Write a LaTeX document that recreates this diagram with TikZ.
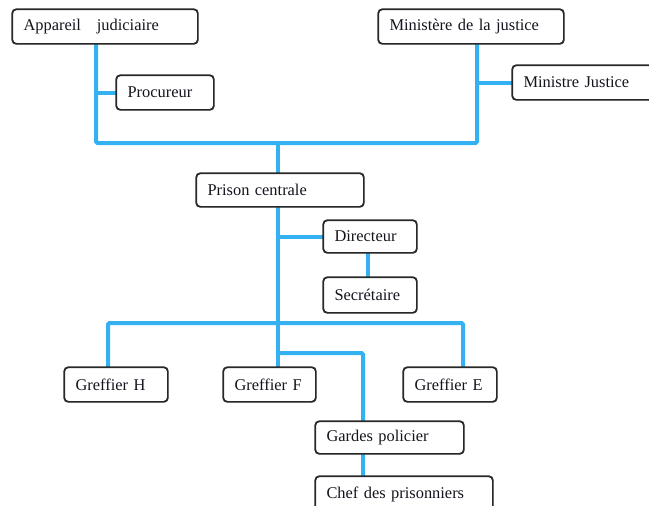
\documentclass[tikz,border=0pt]{standalone}
\usepackage{fontspec}
\setmainfont{Liberation Serif}
\definecolor{linkblue}{RGB}{52,177,240}
\definecolor{boxline}{RGB}{40,40,40}
\definecolor{txt}{RGB}{20,20,30}
\begin{document}
\begin{tikzpicture}[x=1pt,y=-1pt,
  box/.style={draw=boxline, line width=1.1pt, rounded corners=4pt, fill=white,
    anchor=north west, inner xsep=11pt, inner ysep=0pt, align=left,
    text=txt, font=\fontsize{16.4}{18}\selectfont},
  link/.style={draw=linkblue, line width=4pt, rounded corners=1.5pt}]
\useasboundingbox (0,0) rectangle (649,506);
\clip (0,0) rectangle (649,506);
\fill[white] (0,0) rectangle (649,506);
% junction coordinates
\coordinate (jL) at (96,143);
\coordinate (jR) at (477,143);
\coordinate (jP) at (278,143);
\coordinate (jG) at (278,323);
\coordinate (jH) at (108,323);
\coordinate (jE) at (463,323);
\coordinate (jS) at (278,353);
\coordinate (jT) at (363,353);
\coordinate (jD) at (368,0);
% nodes
\node[box, minimum width=185pt, minimum height=34pt, text width=163pt] (app) at (12,9) {Appareil\hspace{16pt}judiciaire};
\node[box, minimum width=97pt, minimum height=34pt, text width=75pt] (proc) at (116,75) {Procureur};
\node[box, minimum width=185pt, minimum height=34pt, text width=163pt] (min) at (378,9) {Ministère de la justice};
\node[box, minimum width=150pt, minimum height=34pt, text width=128pt] (minj) at (512,65) {Ministre Justice};
\node[box, minimum width=167pt, minimum height=33pt, text width=145pt] (pris) at (196,173) {Prison centrale};
\node[box, minimum width=93pt, minimum height=32pt, text width=71pt] (dir) at (323,220) {Directeur};
\node[box, minimum width=93pt, minimum height=35pt, text width=71pt] (sec) at (323,277) {Secrétaire};
\node[box, minimum width=103pt, minimum height=34pt, text width=81pt] (gH) at (64,367) {Greffier H};
\node[box, minimum width=92pt, minimum height=34pt, text width=70pt] (gF) at (223,367) {Greffier F};
\node[box, minimum width=93pt, minimum height=34pt, text width=71pt] (gE) at (403,367) {Greffier E};
\node[box, minimum width=148pt, minimum height=32pt, text width=126pt] (gard) at (315,421) {Gardes policier};
\node[box, minimum width=177pt, minimum height=36pt, text width=155pt] (chef) at (315,476) {Chef des prisonniers};
% connectors
\path[link] (app.south -| jL) -- (jL) -- (jR) -- (min.south -| jR);
\path[link] (jL |- proc.west) -- (proc.west);
\path[link] (jR |- minj.west) -- (minj.west);
\path[link] (jP) -- (pris.north -| jP);
\path[link] (pris.south -| jP) -- (jG);
\path[link] (jP |- dir.west) -- (dir.west);
\path[link] (dir.south -| jD) -- (sec.north -| jD);
\path[link] (gH.north -| jH) -- (jH) -- (jE) -- (gE.north -| jE);
\path[link] (jG) -- (gF.north -| jG);
\path[link] (jS) -- (jT) -- (gard.north -| jT);
\path[link] (gard.south -| jT) -- (chef.north -| jT);
% box outlines on top of the connectors
\foreach \n in {app,proc,min,minj,pris,dir,sec,gH,gF,gE,gard,chef}{
  \draw[boxline, line width=1.1pt, rounded corners=4pt] (\n.south west) rectangle (\n.north east);
}
\end{tikzpicture}
\end{document}
